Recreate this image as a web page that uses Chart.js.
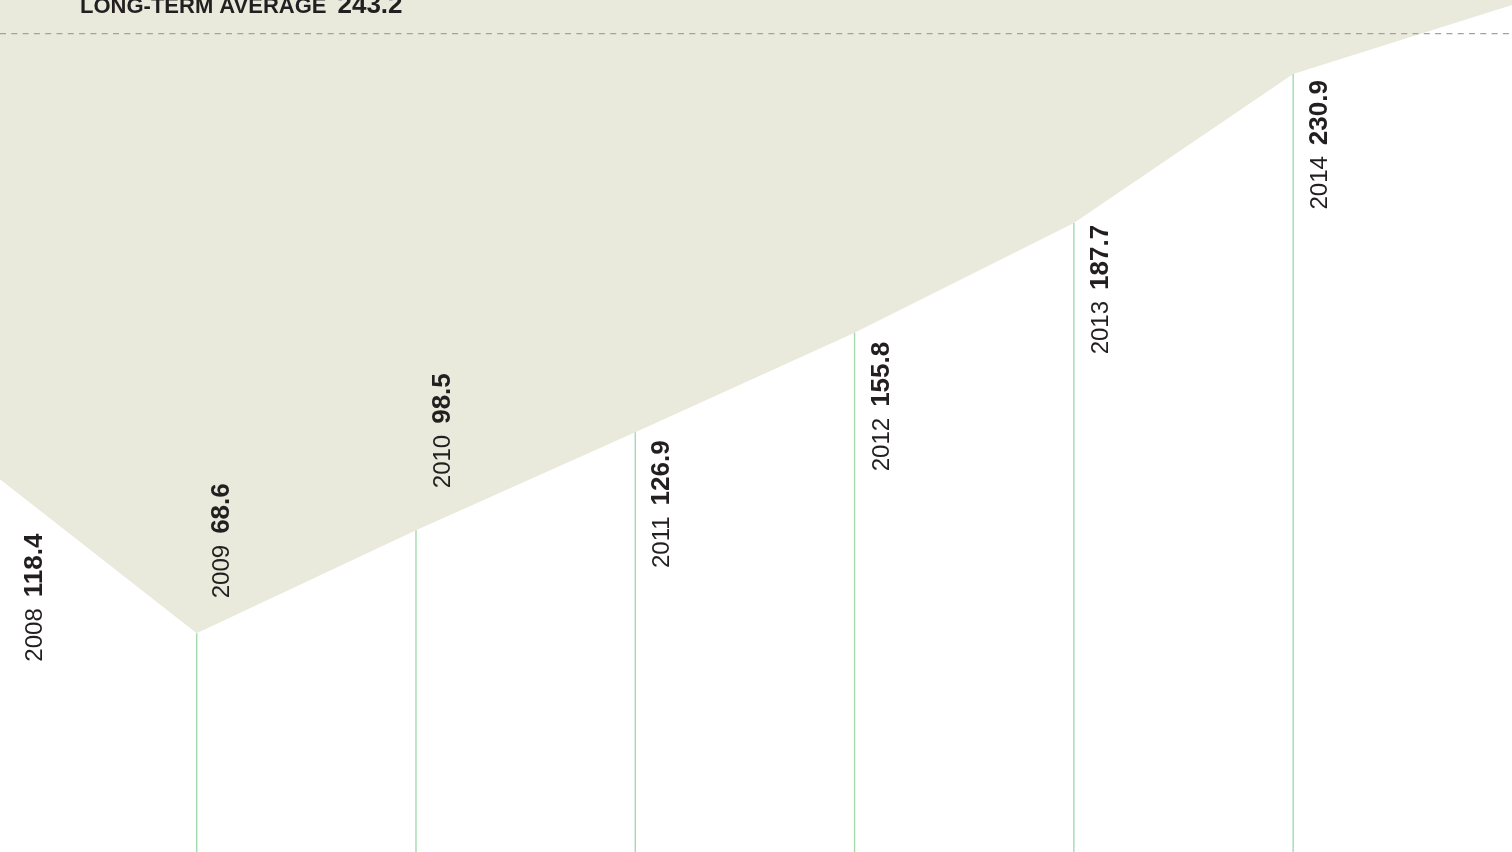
<!DOCTYPE html>
<html>
<head>
<meta charset="utf-8">
<script src="https://cdn.jsdelivr.net/npm/chart.js@4.4.1/dist/chart.umd.min.js"></script>
<style>
  html, body { margin: 0; padding: 0; background: #ffffff; overflow: hidden; }
  #wrap { width: 1512px; height: 852px; position: relative; }
  canvas { display: block; }
</style>
</head>
<body>
<div id="wrap"><canvas id="c" width="1512" height="852"></canvas></div>
<script>
// ---- data ----
const years = [2008, 2009, 2010, 2011, 2012, 2013, 2014, 2015];
const values = [118.4, 68.6, 98.5, 126.9, 155.8, 187.7, 230.9, 251.0];
const yearLabels = ['2008', '2009', '2010', '2011', '2012', '2013', '2014', ''];
const valueLabels = ['118.4', '68.6', '98.5', '126.9', '155.8', '187.7', '230.9', ''];
const averageTitle = 'LONG-TERM AVERAGE';
const averageValue = 243.2;
const averageValueLabel = '243.2';

// ---- label layout (pixel offsets from each point, style only) ----
// [dx, dy, anchor]  anchor 'start' = text starts at origin going up, 'end' = text ends at origin
const labelLayout = [
  [65, 200, 'start'],
  [32, -35, 'start'],
  [34, -42, 'start'],
  [34, 8, 'end'],
  [34, 9, 'end'],
  [34, 2, 'end'],
  [34, 6, 'end'],
  null
];

const FONT = '"Liberation Sans", Arial, Helvetica, sans-serif';
const TEXT_COLOR = '#231f20';

const overlayPlugin = {
  id: 'overlay',
  afterDatasetsDraw(chart) {
    const ctx = chart.ctx;
    const xs = chart.scales.x, ys = chart.scales.y;
    const bottom = chart.height;

    // vertical green guide lines from each visible point down
    ctx.save();
    ctx.strokeStyle = '#a3dbae';
    ctx.lineWidth = 1.4;
    years.forEach((yr, i) => {
      const px = xs.getPixelForValue(yr);
      if (px < 1 || px > chart.width - 2) return;
      const py = ys.getPixelForValue(values[i]);
      ctx.beginPath();
      ctx.moveTo(px, py);
      ctx.lineTo(px, bottom);
      ctx.stroke();
    });
    ctx.restore();

    // dashed long-term average line
    const ay = ys.getPixelForValue(averageValue) + 2;
    ctx.save();
    ctx.strokeStyle = '#a2a2a0';
    ctx.lineWidth = 1.2;
    ctx.setLineDash([6, 5.3]);
    ctx.beginPath();
    ctx.moveTo(0, ay);
    ctx.lineTo(chart.width, ay);
    ctx.stroke();
    ctx.restore();

    // title text
    ctx.save();
    ctx.fillStyle = TEXT_COLOR;
    ctx.textBaseline = 'alphabetic';
    ctx.font = 'bold 22px ' + FONT;
    ctx.fillText(averageTitle, 80, 12.5);
    const tw = ctx.measureText(averageTitle).width;
    ctx.font = 'bold 26px ' + FONT;
    ctx.fillText(averageValueLabel, 80 + tw + 11, 12.5);
    ctx.restore();

    // rotated point labels
    years.forEach((yr, i) => {
      const lay = labelLayout[i];
      if (!lay || !yearLabels[i]) return;
      const px = xs.getPixelForValue(yr);
      const py = ys.getPixelForValue(values[i]);
      const ox = px + lay[0], oy = py + lay[1];
      ctx.save();
      ctx.translate(ox, oy);
      ctx.rotate(-Math.PI / 2);
      ctx.fillStyle = TEXT_COLOR;
      ctx.textBaseline = 'alphabetic';
      ctx.textAlign = 'left';
      const regFont = '24px ' + FONT;
      const boldFont = 'bold 26px ' + FONT;
      ctx.font = regFont;
      const w1 = ctx.measureText(yearLabels[i]).width;
      ctx.font = boldFont;
      const w2 = ctx.measureText(valueLabels[i]).width;
      const gap = 11;
      const total = w1 + gap + w2;
      const start = lay[2] === 'start' ? 0 : -total;
      ctx.font = regFont;
      ctx.fillText(yearLabels[i], start, 0);
      ctx.font = boldFont;
      ctx.fillText(valueLabels[i], start + w1 + gap, 0);
      ctx.restore();
    });
  }
};

new Chart(document.getElementById('c'), {
  type: 'line',
  data: {
    datasets: [{
      data: years.map((y, i) => ({ x: y, y: values[i] })),
      fill: 'end',
      backgroundColor: '#e9e9dc',
      borderWidth: 0,
      borderColor: 'rgba(0,0,0,0)',
      pointRadius: 0,
      pointHoverRadius: 0,
      tension: 0,
      clip: false
    }]
  },
  options: {
    responsive: false,
    maintainAspectRatio: false,
    devicePixelRatio: 1,
    animation: false,
    events: [],
    layout: { padding: 0 },
    plugins: {
      legend: { display: false },
      tooltip: { enabled: false },
      title: { display: false }
    },
    scales: {
      x: { type: 'linear', min: 2008.103, max: 2014.998, display: false },
      y: { type: 'linear', min: 5.1, max: 252.4, display: false }
    }
  },
  plugins: [overlayPlugin]
});
</script>
</body>
</html>
